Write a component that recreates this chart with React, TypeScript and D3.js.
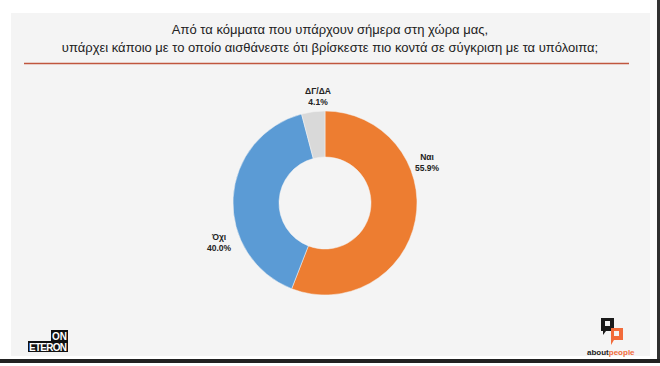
import React from "react";
import * as d3 from "d3";

const categories = ["Ναι", "Όχι", "ΔΓ/ΔΑ"];
const values = [55.9, 40.0, 4.1];
const valueLabels = ["55.9%", "40.0%", "4.1%"];
const colors = ["#ED7D31", "#5B9BD5", "#D9D9D9"];
const titleLines = [
  "Από τα κόμματα που υπάρχουν σήμερα στη χώρα μας,",
  "υπάρχει κάποιο με το οποίο αισθάνεστε ότι βρίσκεστε πιο κοντά σε σύγκριση με τα υπόλοιπα;",
];

export default function App() {
  const W = 660, H = 366;
  const cx = 325, cy = 203, R = 92, r = 46;
  const pie = d3.pie<number>().sort(null).value((d) => d);
  const arcs = pie(values);
  const arc = d3.arc<d3.PieArcDatum<number>>().innerRadius(r).outerRadius(R);
  const labelPos = [
    [427, 162],
    [219, 242],
    [318, 96],
  ];
  const font = "'Liberation Sans', Arial, sans-serif";
  return (
    <svg width={W} height={H} style={{ position: "absolute", left: 0, top: 0 }} fontFamily={font}>
      <rect x={0} y={0} width={W} height={H} fill="#ffffff" />
      <rect x={11} y={13} width={639} height={343} fill="#F4F4F4" />
      <rect x={657} y={0} width={3} height={363} fill="#333" />
      <rect x={0} y={359} width={W} height={4} fill="#222" />
      {titleLines.map((t, i) => (
        <text key={i} x={330} y={34 + i * 18} textAnchor="middle" fontSize={13} fill="#222">
          {t}
        </text>
      ))}
      <line x1={24} x2={629} y1={63.5} y2={63.5} stroke="#C0563E" strokeWidth={1.5} />
      <g transform={`translate(${cx},${cy})`}>
        {arcs.map((a, i) => (
          <path key={i} d={arc(a) || ""} fill={colors[i]} stroke="#F4F4F4" strokeWidth={0.5} />
        ))}
      </g>
      {arcs.map((a, i) => (
        <g key={i} transform={`translate(${labelPos[i][0]},${labelPos[i][1]})`}>
          <text textAnchor="middle" y={-2} fontSize={8.5} fontWeight="bold" fill="#222">
            {categories[i]}
          </text>
          <text textAnchor="middle" y={8.5} fontSize={8.5} fontWeight="bold" fill="#222">
            {valueLabels[i]}
          </text>
        </g>
      ))}
      {/* ONETERON logo */}
      <rect x={51} y={330} width={17} height={11} fill="#111" />
      <text x={59.5} y={339.5} textAnchor="middle" fontSize={10} fontWeight="bold" fill="#fff">ON</text>
      <rect x={28} y={341} width={40} height={11} fill="#111" />
      <text x={48} y={350.5} textAnchor="middle" fontSize={10} fontWeight="bold" fill="#fff" textLength={38}>ETERON</text>
      {/* aboutpeople logo */}
      <rect x={601} y={318} width={13} height={13} fill="#1a1a1a" />
      <rect x={605} y={321} width={5} height={5} fill="#F4F4F4" />
      <path d="M603,331 L606,331 L603,335 Z" fill="#1a1a1a" />
      <rect x={611} y={328} width={12} height={12} fill="#F26B3A" />
      <rect x={614} y={331} width={5} height={5} fill="#F4F4F4" />
      <path d="M611,340 L614,340 L611,345 Z" fill="#F26B3A" />
      <text x={587} y={355} fontSize={8} fontWeight="bold" fill="#222">about<tspan fill="#F26B3A">people</tspan></text>
    </svg>
  );
}
